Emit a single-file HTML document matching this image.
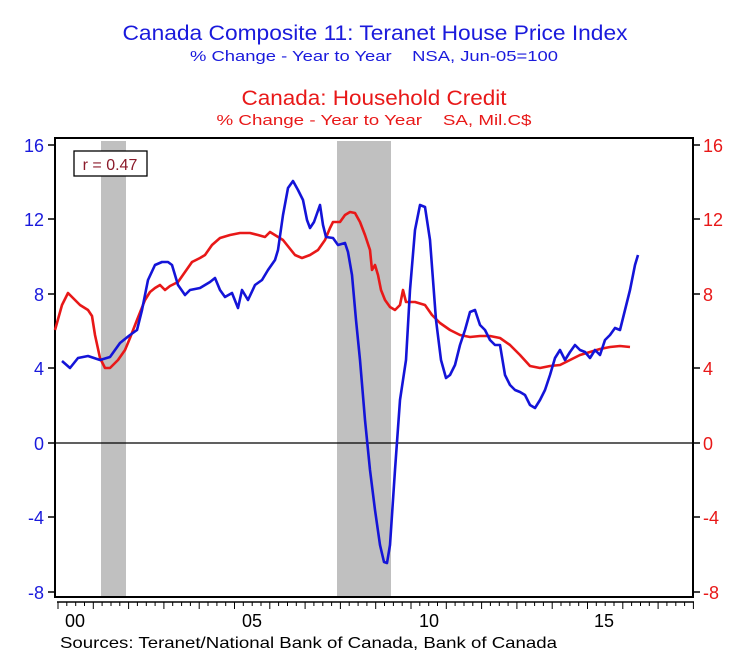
<!DOCTYPE html>
<html><head><meta charset="utf-8"><style>html,body{margin:0;padding:0;background:#fff}svg{display:block}</style></head>
<body>
<svg width="750" height="668" viewBox="0 0 750 668" xmlns="http://www.w3.org/2000/svg" font-family="Liberation Sans, Arial, sans-serif">
<rect width="750" height="668" fill="#fff"/>
<text x="375" y="40" font-size="21" fill="#1a1adc" text-anchor="middle" textLength="505" lengthAdjust="spacingAndGlyphs">Canada Composite 11: Teranet House Price Index</text>
<text x="374" y="61" font-size="15" fill="#1a1adc" text-anchor="middle" textLength="368" lengthAdjust="spacingAndGlyphs" xml:space="preserve">% Change - Year to Year    NSA, Jun-05=100</text>
<text x="374" y="105" font-size="21" fill="#e81818" text-anchor="middle" textLength="265" lengthAdjust="spacingAndGlyphs">Canada: Household Credit</text>
<text x="374" y="125" font-size="15" fill="#e81818" text-anchor="middle" textLength="315" lengthAdjust="spacingAndGlyphs" xml:space="preserve">% Change - Year to Year    SA, Mil.C$</text>
<rect x="101" y="141" width="25" height="456" fill="#c0c0c0"/>
<rect x="337" y="141" width="54" height="456" fill="#c0c0c0"/>
<line x1="55" y1="443" x2="693" y2="443" stroke="#000" stroke-width="1.3"/>
<rect x="55" y="138" width="638" height="459" fill="none" stroke="#000" stroke-width="2"/>
<g stroke="#000" stroke-width="1.5">
<line x1="48" y1="145" x2="55" y2="145"/><line x1="48" y1="219" x2="55" y2="219"/><line x1="48" y1="294" x2="55" y2="294"/><line x1="48" y1="368" x2="55" y2="368"/><line x1="48" y1="443" x2="55" y2="443"/><line x1="48" y1="517" x2="55" y2="517"/><line x1="48" y1="592" x2="55" y2="592"/>
<line x1="693" y1="145" x2="700" y2="145"/><line x1="693" y1="219" x2="700" y2="219"/><line x1="693" y1="294" x2="700" y2="294"/><line x1="693" y1="368" x2="700" y2="368"/><line x1="693" y1="443" x2="700" y2="443"/><line x1="693" y1="517" x2="700" y2="517"/><line x1="693" y1="592" x2="700" y2="592"/>
</g>
<g font-size="18" fill="#1a1adc" text-anchor="end">
<text x="44" y="152">16</text><text x="44" y="226">12</text><text x="44" y="301">8</text><text x="44" y="375">4</text><text x="44" y="450">0</text><text x="44" y="524">-4</text><text x="44" y="599">-8</text>
</g>
<g font-size="18" fill="#e81818">
<text x="703" y="152">16</text><text x="703" y="226">12</text><text x="703" y="301">8</text><text x="703" y="375">4</text><text x="703" y="450">0</text><text x="703" y="524">-4</text><text x="703" y="599">-8</text>
</g>
<line x1="57" y1="602" x2="694" y2="602" stroke="#000" stroke-width="1.5"/>
<g stroke="#000" stroke-width="1">
<path d="M58 602v7M66.8 602v4M75.7 602v4M84.5 602v4M93.3 602v7M102.1 602v4M111 602v4M119.8 602v4M128.6 602v7M137.4 602v4M146.3 602v4M155.1 602v4M163.9 602v7M172.7 602v4M181.6 602v4M190.4 602v4M199.2 602v7M208 602v4M216.9 602v4M225.7 602v4M234.5 602v7M243.3 602v4M252.2 602v4M261 602v4M269.8 602v7M278.6 602v4M287.5 602v4M296.3 602v4M305.1 602v7M313.9 602v4M322.8 602v4M331.6 602v4M340.4 602v7M349.2 602v4M358.1 602v4M366.9 602v4M375.7 602v7M384.5 602v4M393.4 602v4M402.2 602v4M411 602v7M419.8 602v4M428.7 602v4M437.5 602v4M446.3 602v7M455.1 602v4M464 602v4M472.8 602v4M481.6 602v7M490.4 602v4M499.3 602v4M508.1 602v4M516.9 602v7M525.7 602v4M534.6 602v4M543.4 602v4M552.2 602v7M561 602v4M569.9 602v4M578.7 602v4M587.5 602v7M596.3 602v4M605.2 602v4M614 602v4M622.8 602v7M631.6 602v4M640.5 602v4M649.3 602v4M658.1 602v7M666.9 602v4M675.8 602v4M684.6 602v4M693.4 602v7"/>
</g>
<g font-size="18" fill="#000" text-anchor="middle">
<text x="75" y="627">00</text><text x="252" y="627">05</text><text x="429" y="627">10</text><text x="604" y="627">15</text>
</g>
<text x="60" y="648" font-size="16" fill="#000" textLength="497" lengthAdjust="spacingAndGlyphs">Sources:  Teranet/National Bank of Canada, Bank of Canada</text>
<rect x="74" y="151" width="73" height="25" fill="#fff" stroke="#000" stroke-width="1.3"/>
<text x="110" y="170" font-size="16" fill="#8b1a2a" text-anchor="middle">r = 0.47</text>
<polyline fill="none" stroke="#e81818" stroke-width="2.6" stroke-linejoin="round" points="55,330 62,305 68,293 75,300 80,305 88,310 92,316 95,335 100,358 105,368 110,368 118,360 125,350 130,338 137,320 145,300 150,292 155,288 160,285 165,290 170,286 178,282 185,272 192,262 200,258 205,255 212,245 220,238 230,235 240,233 250,233 258,235 265,237 270,232 283,240 295,255 302,258 310,255 318,250 325,240 330,228 333,222 340,222 345,215 350,212 355,213 360,222 365,235 370,250 372,270 375,265 378,275 381,290 385,300 390,307 395,310 400,305 403,290 406,302 415,302 425,305 432,315 440,323 450,330 460,335 470,337 480,336 490,336 500,338 510,345 520,355 530,366 540,368 550,366 560,365 570,360 580,355 590,352 600,349 610,347 620,346 630,347"/>
<polyline fill="none" stroke="#1414d8" stroke-width="2.6" stroke-linejoin="round" points="62,361 70,368 78,358 88,356 100,360 110,357 120,343 130,335 137,330 142,310 148,280 155,265 162,262 168,262 172,265 178,285 185,295 190,290 200,288 210,282 215,278 220,290 225,297 232,293 238,308 242,290 248,300 255,285 262,280 268,270 275,260 278,250 283,215 288,188 293,181 298,190 303,200 307,220 310,228 314,222 320,205 323,225 326,237 333,238 338,245 345,243 348,252 352,275 356,320 360,360 365,420 370,470 375,510 380,545 384,562 387,563 390,545 395,470 400,400 406,360 410,290 415,230 420,205 425,207 430,240 436,320 441,360 446,378 450,375 455,365 460,345 465,330 470,312 475,310 480,325 485,330 490,340 495,345 500,345 505,375 510,385 515,390 520,392 525,395 530,405 535,408 540,400 545,390 550,375 555,358 560,350 565,360 570,352 575,345 580,350 585,352 590,358 595,350 600,355 605,340 610,335 615,328 620,330 625,310 630,290 635,265 638,255"/>
</svg>
</body></html>
